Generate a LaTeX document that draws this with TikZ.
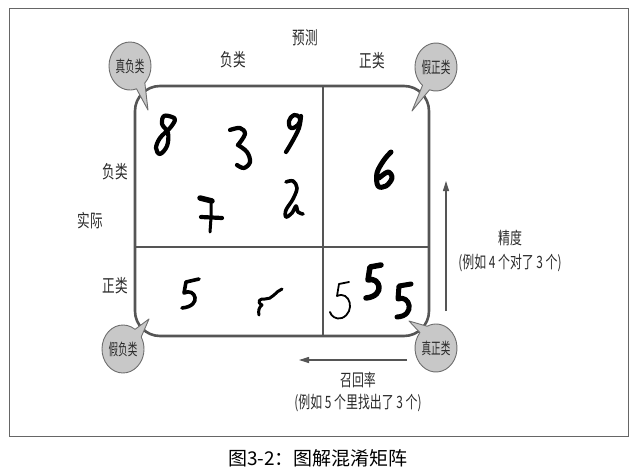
\documentclass[tikz,border=0pt]{standalone}
\usepackage{fontspec}
\newfontfamily\cjk[FakeStretch=0.70]{Noto Sans CJK SC}
\newfontfamily\cjkb[FakeStretch=0.60]{Noto Sans CJK SC}
\newfontfamily\capfont{Noto Sans CJK SC}
\usetikzlibrary{arrows.meta,calc}
\definecolor{framegray}{HTML}{555555}
\definecolor{bubfill}{HTML}{C8C8C8}
\definecolor{bubline}{HTML}{6E6E6E}
\definecolor{txt}{HTML}{2A2A2A}
\begin{document}
\begin{tikzpicture}[x=1pt,y=-1pt,
  lab/.style={text=txt, font=\cjk\fontsize{18}{20}\selectfont, inner sep=0pt},
  sub/.style={text=txt, font=\cjk\fontsize{17}{19}\selectfont, inner sep=0pt},
  bubtxt/.style={text=txt, font=\cjkb\fontsize{16}{18}\selectfont, inner sep=0pt},
  bub/.style={fill=bubfill, draw=bubline, line width=0.9pt, line join=round},
  boxline/.style={draw=framegray, line width=2.6pt},
  divline/.style={draw=framegray, line width=1.8pt},
  digit/.style={line width=4.2pt, line cap=round, line join=round, draw=black},
  arr/.style={draw=framegray, line width=1.1pt, -{Triangle[length=10pt,width=6pt]}}
]
\useasboundingbox (0,0) rectangle (638,474);
\draw[draw=black!60, line width=0.8pt] (9,8) rectangle (628,436);

% matrix frame
\draw[boxline, rounded corners=25pt] (135,86) rectangle (429,336);
\draw[divline] (323,86) -- (323,336);
\draw[divline] (135,247) -- (429,247);

% digits
\draw[digit] plot[smooth cycle, tension=0.6] coordinates {(172,117) (164,116) (162,124) (168,133) (167,146) (160,154) (156,148) (160,138) (170,128) (175,120)};
\draw[digit] plot[smooth, tension=0.6] coordinates {(230,130) (240,128) (245,134) (238,145)};
\draw[digit] plot[smooth, tension=0.6] coordinates {(238,145) (247,152) (250,162) (244,168) (237,165)};
\draw[digit] plot[smooth cycle, tension=0.7] coordinates {(300,118) (294,115) (289,121) (291,128) (298,125)};
\draw[digit] plot[smooth, tension=0.6] coordinates {(301,116) (299,128) (292,142) (286,152)};
\draw[digit, line width=5.5pt] (200,198) -- (212,201);
\draw[digit, line width=3pt] (211,201) -- (211,218) -- (210,232);
\draw[digit] (201,217) -- (222,218);
\draw[digit, line width=3.6pt] plot[smooth, tension=0.6] coordinates {(286,182) (293,181) (297,188) (293,199) (286,210) (286,217) (292,213) (296,206) (298,212) (303,214)};
\draw[digit, line width=5pt] plot[smooth, tension=0.6] coordinates {(391,152) (384,160) (377,173) (378,186) (386,186) (392,178) (388,172) (379,178)};
\draw[digit, line width=3.6pt] (199,279) -- (186,282) -- (184,293) .. controls (195,287) and (203,306) .. (182,308);
\draw[digit, line width=3pt] (282,289) .. controls (276,291) and (272,300) .. (265,299) .. controls (260,298) and (256,302) .. (262,305) .. controls (259,307) and (258,311) .. (259,315);
\draw[digit, line width=1.8pt] (349,282) -- (339,284) -- (337,296) .. controls (350,290) and (356,312) .. (342,318) .. controls (336,320) and (331,316) .. (330,312);
\draw[digit, line width=5.5pt] (381,265) -- (370,267) -- (368,280) .. controls (380,276) and (386,296) .. (366,298);
\draw[digit, line width=5pt] (411,284) -- (399,286) -- (398,299) .. controls (410,294) and (416,316) .. (397,317);

% bubbles
\coordinate (b1) at (130,66);  \coordinate (t1) at (148,110);
\coordinate (b2) at (436,67);  \coordinate (t2) at (412,111);
\coordinate (b3) at (123,349); \coordinate (t3) at (149,319);
\coordinate (b4) at (436,348); \coordinate (t4) at (409,321);
\draw[bub] ($(b1)+(72:21 and 24)$) -- (t1) -- ($(b1)+(45:21 and 24)$) arc[start angle=45, end angle=-288, x radius=21, y radius=24] -- cycle;
\draw[bub] ($(b2)+(130:21 and 24)$) -- (t2) -- ($(b2)+(108:21 and 24)$) arc[start angle=108, end angle=-230, x radius=21, y radius=24] -- cycle;
\draw[bub] ($(b3)+(-30:21 and 24)$) -- (t3) -- ($(b3)+(-55:21 and 24)$) arc[start angle=-55, end angle=-390, x radius=21, y radius=24] -- cycle;
\draw[bub] ($(b4)+(-115:21 and 24)$) -- (t4) -- ($(b4)+(-140:21 and 24)$) arc[start angle=-140, end angle=-475, x radius=21, y radius=24] -- cycle;
\node[bubtxt] (n1) at (b1) {真负类};
\node[bubtxt] (n2) at (b2) {假正类};
\node[bubtxt] (n3) at (b3) {假负类};
\node[bubtxt] (n4) at (b4) {真正类};

% labels
\node[lab] (yc) at (305,38) {预测};
\node[lab] (pn) at (233,60) {负类};
\node[lab] (pp) at (372,61) {正类};
\node[lab] (an) at (115,172) {负类};
\node[lab] (sj) at (90,221) {实际};
\node[lab] (ap) at (115,286) {正类};
\node[sub] (jd) at (510,238) {精度};
\node[sub] (jd2) at (510,263) {(例如 4 个对了 3 个)};
\node[sub] (zh) at (358,380) {召回率};
\node[sub] (zh2) at (358,403) {(例如 5 个里找出了 3 个)};
\node[text=black, font=\capfont\fontsize{19}{21}\selectfont, inner sep=0pt] (cap) at (318,458) {图3-2：图解混淆矩阵};

% arrows
\coordinate (pA) at (446,311); \coordinate (pB) at (446,181);
\coordinate (rA) at (407,360); \coordinate (rB) at (299,360);
\draw[arr] (pA) -- (pB);
\draw[arr] (rA) -- (rB);
\end{tikzpicture}
\end{document}
